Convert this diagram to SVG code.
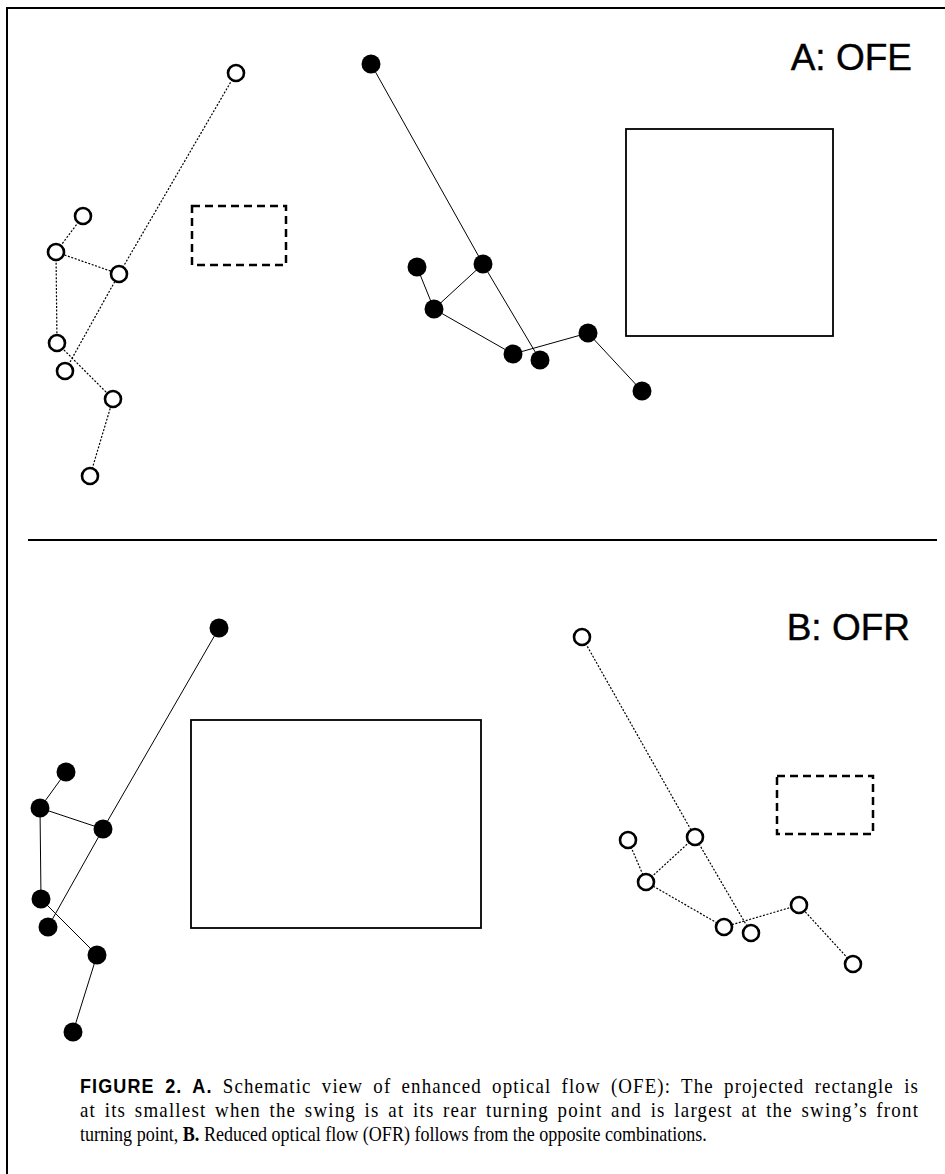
<svg xmlns="http://www.w3.org/2000/svg" width="945" height="1174" viewBox="0 0 945 1174">
<style>
.frame{stroke:#000;stroke-width:2;fill:none}
.rect{stroke:#000;stroke-width:1.8;fill:none}
.drect{stroke:#000;stroke-width:2.5;fill:none;stroke-dasharray:8 5}
.dot{stroke:#000;stroke-width:1.2;fill:none;stroke-dasharray:2 1.6}
.sol{stroke:#000;stroke-width:1;fill:none}
.oc{fill:#fff;stroke:#000;stroke-width:2.6}
.fc{fill:#000;stroke:none}
.lbl{font-family:"Liberation Sans",Arial,sans-serif;font-size:37px;fill:#000;stroke:#000;stroke-width:0.4}
.cap{font-family:"Liberation Serif","Times New Roman",serif;font-size:21px;fill:#000}
.capb{font-family:"Liberation Sans",Arial,sans-serif;font-weight:bold;font-size:20px}
</style>
<rect width="945" height="1174" fill="#fff"/>
<g id="frame">
<path class="frame" d="M7,1174 V8 H945"/>
<path class="frame" d="M28,540 H937"/>
</g>
<g id="connectors">
<path class="dot" d="M236,73 L119,274 L65,371"/>
<path class="dot" d="M83,216 L56,252 L119,274"/>
<path class="dot" d="M56,252 L57,343 L113,399 L90,476"/>
<path class="sol" d="M371,64 L483,264 L540,360"/>
<path class="sol" d="M483,264 L434,309"/>
<path class="sol" d="M417,267 L434,309 L513,354 L588,333 L642,391"/>
<path class="sol" d="M219,628 L103,829 L48,927"/>
<path class="sol" d="M66,772 L40,808 L103,829"/>
<path class="sol" d="M40,808 L41,899 L97,955 L73,1032"/>
<path class="dot" d="M582,637 L695,837 L751,933"/>
<path class="dot" d="M695,837 L646,882"/>
<path class="dot" d="M628,840 L646,882 L724,927 L799,905 L853,964"/>
</g>
<g id="panelA">
<rect id="A-small-rect" class="drect" x="192" y="206" width="94" height="59"/>
<rect id="A-large-rect" class="rect" x="626" y="129" width="207" height="207"/>
<g id="A-open">
<circle class="oc" cx="236" cy="73" r="8"/>
<circle class="oc" cx="83" cy="216" r="8"/>
<circle class="oc" cx="56" cy="252" r="8"/>
<circle class="oc" cx="119" cy="274" r="8"/>
<circle class="oc" cx="57" cy="343" r="8"/>
<circle class="oc" cx="65" cy="371" r="8"/>
<circle class="oc" cx="113" cy="399" r="8"/>
<circle class="oc" cx="90" cy="476" r="8"/>
</g>
<g id="A-filled">
<circle class="fc" cx="371" cy="64" r="9.5"/>
<circle class="fc" cx="483" cy="264" r="9.5"/>
<circle class="fc" cx="417" cy="267" r="9.5"/>
<circle class="fc" cx="434" cy="309" r="9.5"/>
<circle class="fc" cx="513" cy="354" r="9.5"/>
<circle class="fc" cx="540" cy="360" r="9.5"/>
<circle class="fc" cx="588" cy="333" r="9.5"/>
<circle class="fc" cx="642" cy="391" r="9.5"/>
</g>
<text id="A-label" class="lbl" x="912" y="70" text-anchor="end">A: OFE</text>
</g>
<g id="panelB">
<rect id="B-large-rect" class="rect" x="191" y="720" width="290" height="208"/>
<rect id="B-small-rect" class="drect" x="777" y="776" width="96" height="58"/>
<g id="B-filled">
<circle class="fc" cx="219" cy="628" r="9.5"/>
<circle class="fc" cx="66" cy="772" r="9.5"/>
<circle class="fc" cx="40" cy="808" r="9.5"/>
<circle class="fc" cx="103" cy="829" r="9.5"/>
<circle class="fc" cx="41" cy="899" r="9.5"/>
<circle class="fc" cx="48" cy="927" r="9.5"/>
<circle class="fc" cx="97" cy="955" r="9.5"/>
<circle class="fc" cx="73" cy="1032" r="9.5"/>
</g>
<g id="B-open">
<circle class="oc" cx="582" cy="637" r="8"/>
<circle class="oc" cx="628" cy="840" r="8"/>
<circle class="oc" cx="695" cy="837" r="8"/>
<circle class="oc" cx="646" cy="882" r="8"/>
<circle class="oc" cx="724" cy="927" r="8"/>
<circle class="oc" cx="751" cy="933" r="8"/>
<circle class="oc" cx="799" cy="905" r="8"/>
<circle class="oc" cx="853" cy="964" r="8"/>
</g>
<text id="B-label" class="lbl" x="910" y="640" text-anchor="end">B: OFR</text>
</g>
<g id="caption">
<g transform="translate(80,0) scale(0.9,1)">
<text class="cap" x="0" y="1093" word-spacing="5" textLength="931" lengthAdjust="spacing"><tspan class="capb">FIGURE 2. A.</tspan> Schematic view of enhanced optical flow (OFE): The projected rectangle is</text>
<text class="cap" x="0" y="1117" word-spacing="3" textLength="931" lengthAdjust="spacing">at its smallest when the swing is at its rear turning point and is largest at the swing’s front</text>
</g>
<g transform="translate(80,0) scale(0.86,1)">
<text class="cap" x="0" y="1141">turning point, <tspan font-weight="bold">B.</tspan> Reduced optical flow (OFR) follows from the opposite combinations.</text>
</g>
</g>
</svg>
